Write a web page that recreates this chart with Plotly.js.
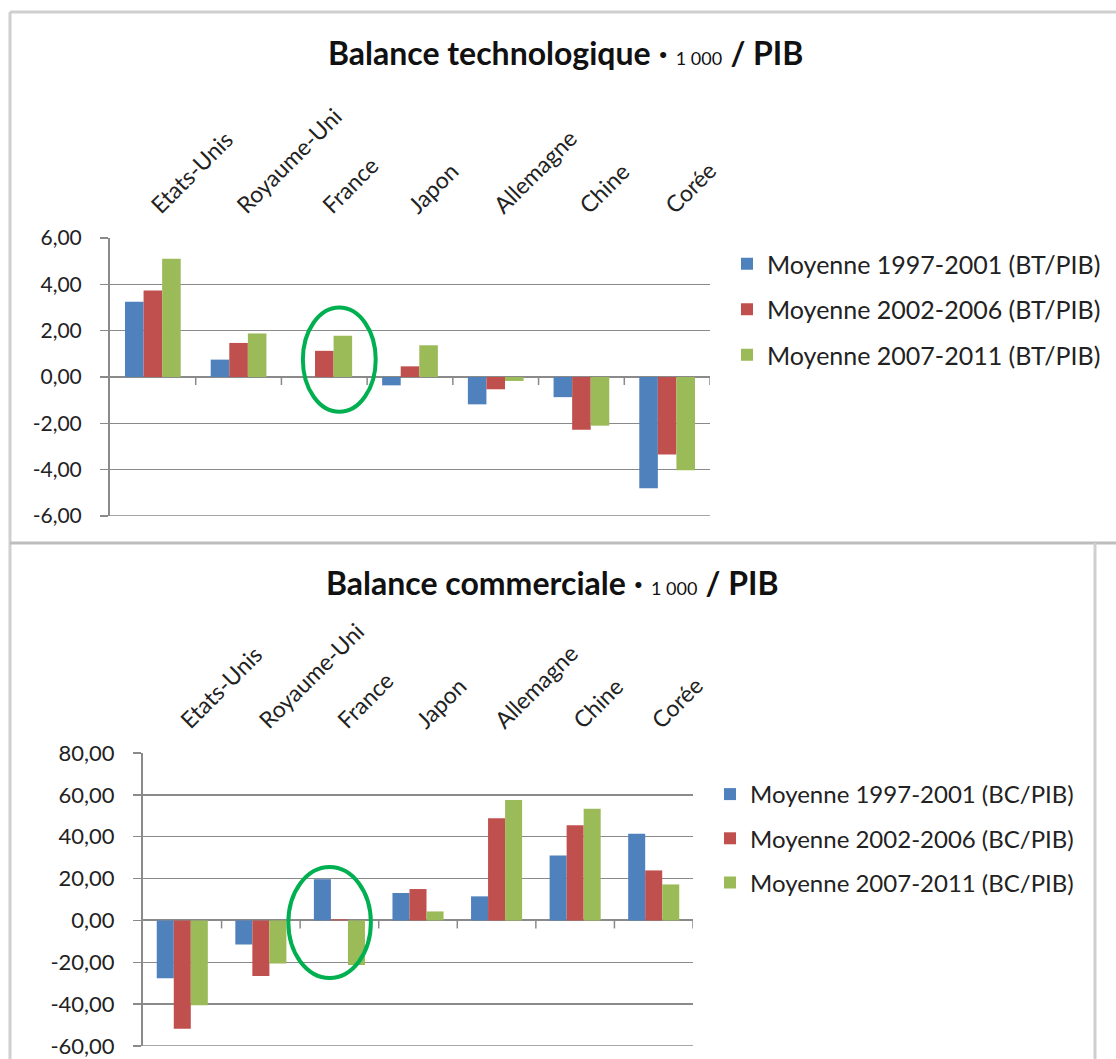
<!DOCTYPE html>
<html>
<head>
<meta charset="utf-8">
<script src="https://cdn.plot.ly/plotly-3.0.1.min.js"></script>
<style>
html,body{margin:0;padding:0;background:#fff;}
#chart{width:1116px;height:1059px;}
</style>
</head>
<body>
<div id="chart"></div>
<script>
// ---- data ----
const categories = ['Etats-Unis','Royaume-Uni','France','Japon','Allemagne','Chine','Corée'];

const seriesNamesBT = ['Moyenne 1997-2001 (BT/PIB)','Moyenne 2002-2006 (BT/PIB)','Moyenne 2007-2011 (BT/PIB)'];
const bt_1997_2001 = [3.25, 0.75, null, -0.36, -1.18, -0.87, -4.80];
const bt_2002_2006 = [3.73, 1.47, 1.13, 0.46, -0.53, -2.28, -3.35];
const bt_2007_2011 = [5.10, 1.88, 1.78, 1.37, -0.17, -2.10, -4.02];

const seriesNamesBC = ['Moyenne 1997-2001 (BC/PIB)','Moyenne 2002-2006 (BC/PIB)','Moyenne 2007-2011 (BC/PIB)'];
const bc_1997_2001 = [-27.6, -11.5, 19.7, 13.1, 11.5, 31.0, 41.4];
const bc_2002_2006 = [-51.7, -26.6, 0.5, 15.0, 48.8, 45.5, 23.9];
const bc_2007_2011 = [-40.5, -20.6, -21.3, 4.3, 57.5, 53.4, 17.2];

const btTickVals = [-6, -4, -2, 0, 2, 4, 6];
const btTickText = ['-6,00','-4,00','-2,00','0,00','2,00','4,00','6,00'];
const bcTickVals = [-60, -40, -20, 0, 20, 40, 60, 80];
const bcTickText = ['-60,00','-40,00','-20,00','0,00','20,00','40,00','60,00','80,00'];

// ---- styling ----
const W = 1116, H = 1059;
const colors = ['#4F81BD', '#C0504D', '#9BBB59'];
const FONT = 'Lato, "Open Sans", sans-serif';
const gray = '#8a8a8a';
const px = v => v / W;
const py = v => 1 - v / H;

const traces = [];
[bt_1997_2001, bt_2002_2006, bt_2007_2011].forEach((vals, i) => {
  traces.push({
    type: 'bar', x: categories, y: vals, name: seriesNamesBT[i],
    marker: {color: colors[i]}, xaxis: 'x', yaxis: 'y',
    legend: 'legend', legendgroup: 'bt' + i, hoverinfo: 'y'
  });
});
[bc_1997_2001, bc_2002_2006, bc_2007_2011].forEach((vals, i) => {
  traces.push({
    type: 'bar', x: categories, y: vals, name: seriesNamesBC[i],
    marker: {color: colors[i]}, xaxis: 'x2', yaxis: 'y2',
    legend: 'legend2', legendgroup: 'bc' + i, hoverinfo: 'y'
  });
});

function xAxis(domain, anchor) {
  return {
    domain: domain, anchor: anchor, side: 'top', type: 'category',
    range: [-0.5, categories.length - 0.5],
    tickangle: -45, ticks: '', showline: false, showgrid: false, zeroline: false,
    ticklabelstandoff: 14, ticklabeloverflow: 'allow',
    tickfont: {family: FONT, size: 23, color: '#222'}
  };
}
function yAxis(domain, anchor, range, vals, text, fs) {
  return {
    domain: domain, anchor: anchor, range: range,
    tickmode: 'array', tickvals: vals, ticktext: text,
    showgrid: true, gridcolor: gray, gridwidth: 1.3,
    zeroline: true, zerolinecolor: gray, zerolinewidth: 2,
    showline: true, linecolor: gray, linewidth: 2,
    ticks: 'outside', ticklen: 8, tickcolor: gray, tickwidth: 1.5,
    ticklabelstandoff: 14, ticklabeloverflow: 'allow',
    tickfont: {family: FONT, size: fs, color: '#222'}
  };
}

const shapes = [];
// category boundary ticks under the zero line
for (let i = 0; i < categories.length; i++) {
  shapes.push({type: 'line', xref: 'x', yref: 'y', ysizemode: 'pixel', yanchor: 0,
    x0: i + 0.5, x1: i + 0.5, y0: 0, y1: -8, line: {color: gray, width: 1.5}});
  shapes.push({type: 'line', xref: 'x2', yref: 'y2', ysizemode: 'pixel', yanchor: 0,
    x0: i + 0.5, x1: i + 0.5, y0: 0, y1: -8, line: {color: gray, width: 1.5}});
}
// bottom gridlines of each plot
shapes.push({type: 'line', xref: 'x domain', yref: 'y', x0: 0, x1: 1, y0: -6, y1: -6, line: {color: gray, width: 1.3}});
shapes.push({type: 'line', xref: 'x2 domain', yref: 'y2', x0: 0, x1: 1, y0: -60, y1: -60, line: {color: gray, width: 1.3}});
// highlight ellipses around France
shapes.push({type: 'circle', xref: 'x', yref: 'y', x0: 1.75, x1: 2.6, y0: -1.5, y1: 3.0,
  line: {color: '#00B050', width: 4}});
shapes.push({type: 'circle', xref: 'x2', yref: 'y2', x0: 1.35, x1: 2.4, y0: -27.5, y1: 25.5,
  line: {color: '#00B050', width: 4}});
// frames
const frame = '#cfcfcf';
shapes.push({type: 'line', xref: 'paper', yref: 'paper', x0: px(10), x1: px(1116), y0: py(12), y1: py(12), line: {color: frame, width: 3}});
shapes.push({type: 'line', xref: 'paper', yref: 'paper', x0: px(10), x1: px(10), y0: py(12), y1: py(1059), line: {color: frame, width: 3}});
shapes.push({type: 'line', xref: 'paper', yref: 'paper', x0: px(10), x1: px(1116), y0: py(543), y1: py(543), line: {color: '#bdbdbd', width: 3}});
shapes.push({type: 'line', xref: 'paper', yref: 'paper', x0: px(1095), x1: px(1095), y0: py(543), y1: py(1059), line: {color: frame, width: 3}});

const annotations = [
  {xref: 'paper', yref: 'paper', x: px(565), y: py(52), xanchor: 'center', yanchor: 'middle', showarrow: false,
   text: '<b>Balance technologique</b> <b>·</b> <span style="font-size:18px">1 000</span> <b>/ PIB</b>',
   font: {family: FONT, size: 32, color: '#111'}},
  {xref: 'paper', yref: 'paper', x: px(552), y: py(582), xanchor: 'center', yanchor: 'middle', showarrow: false,
   text: '<b>Balance commerciale</b> <b>·</b> <span style="font-size:18px">1 000</span> <b>/ PIB</b>',
   font: {family: FONT, size: 32, color: '#111'}}
];

const legendCommon = {
  xanchor: 'left', yanchor: 'top', traceorder: 'grouped', tracegroupgap: 10,
  itemwidth: 30, bgcolor: 'rgba(0,0,0,0)', borderwidth: 0,
  itemclick: false, itemdoubleclick: false
};

const layout = {
  width: W, height: H,
  margin: {l: 0, r: 0, t: 0, b: 0},
  paper_bgcolor: '#fff', plot_bgcolor: '#fff',
  barmode: 'group', bargap: 0.35, bargroupgap: 0,
  showlegend: true,
  legend: Object.assign({x: px(727), y: py(241), font: {family: FONT, size: 25, color: '#222'}}, legendCommon),
  legend2: Object.assign({x: px(710), y: py(772), font: {family: FONT, size: 24, color: '#222'}}, legendCommon),
  xaxis: xAxis([px(110), px(710)], 'y'),
  yaxis: yAxis([py(516), py(238)], 'x', [-6, 6], btTickVals, btTickText, 21),
  xaxis2: xAxis([px(143), px(693)], 'y2'),
  yaxis2: yAxis([py(1046), py(753)], 'x2', [-60, 80], bcTickVals, bcTickText, 22),
  shapes: shapes,
  annotations: annotations
};

Plotly.newPlot('chart', traces, layout, {displayModeBar: false, staticPlot: true});
</script>
</body>
</html>
